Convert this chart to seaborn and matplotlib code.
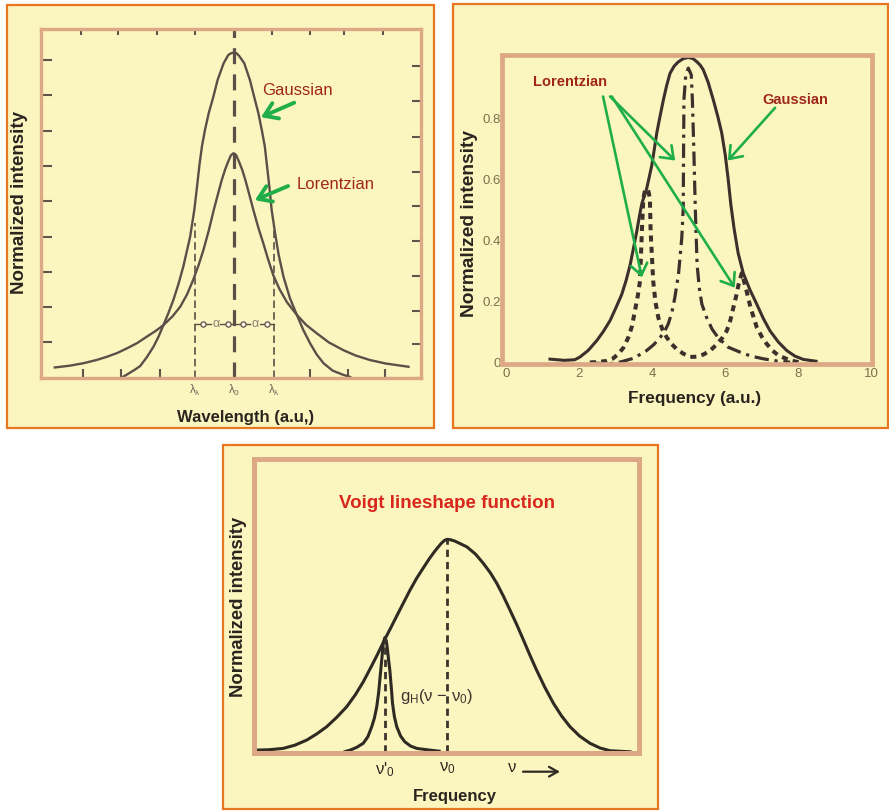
import matplotlib
matplotlib.use("Agg")
import matplotlib.pyplot as plt
from matplotlib.patches import Rectangle
import seaborn as sns

plt.rcParams['font.family'] = ['Liberation Sans', 'DejaVu Sans']
plt.rcParams['mathtext.fontset'] = 'custom'
plt.rcParams['mathtext.rm'] = 'Liberation Sans'
plt.rcParams['mathtext.it'] = 'Liberation Sans:italic'

# ---------------- data ----------------
# Panel A : wavelength profiles
a_gauss_x = [2.11, 2.25, 2.40, 2.55, 2.73, 2.90, 3.03, 3.16, 3.29, 3.42, 3.55, 3.68, 3.86, 3.97,
             4.04, 4.11, 4.17, 4.25, 4.35, 4.47, 4.58, 4.74, 4.86, 4.93, 5.00, 5.08, 5.15, 5.28,
             5.43, 5.54, 5.65, 5.74, 5.82, 5.87, 5.94, 6.00, 6.09, 6.18, 6.31, 6.48, 6.66, 6.83,
             7.01, 7.18, 7.36, 7.60, 7.88, 8.06]
a_gauss_y = [0.03, 0.12, 0.22, 0.33, 0.59, 0.88, 1.16, 1.49, 1.83, 2.20, 2.64, 3.14, 3.99, 4.75,
             5.40, 6.07, 6.55, 7.02, 7.50, 7.96, 8.43, 8.91, 9.14, 9.19, 9.21, 9.19, 9.11, 8.91,
             8.43, 7.96, 7.50, 7.02, 6.55, 6.07, 5.40, 4.75, 4.09, 3.50, 2.86, 2.25, 1.78, 1.35,
             0.97, 0.66, 0.41, 0.20, 0.08, 0.02]
a_lor_x = [0.31, 0.70, 1.06, 1.40, 1.67, 1.95, 2.20, 2.47, 2.72, 2.95, 3.16, 3.40, 3.60, 3.78,
           3.94, 4.08, 4.21, 4.35, 4.48, 4.59, 4.69, 4.78, 4.85, 4.93, 5.00, 5.07, 5.15, 5.23,
           5.31, 5.41, 5.52, 5.65, 5.78, 5.91, 6.04, 6.20, 6.40, 6.66, 6.90, 7.18, 7.50, 7.88,
           8.20, 8.58, 9.00, 9.59]
a_lor_y = [0.29, 0.34, 0.41, 0.50, 0.59, 0.70, 0.83, 0.98, 1.16, 1.32, 1.49, 1.74, 2.01, 2.36,
           2.77, 3.18, 3.62, 4.17, 4.75, 5.20, 5.60, 5.90, 6.10, 6.30, 6.36, 6.30, 6.10, 5.88,
           5.60, 5.20, 4.75, 4.25, 3.81, 3.34, 2.91, 2.52, 2.14, 1.78, 1.50, 1.26, 1.00, 0.78,
           0.63, 0.50, 0.40, 0.31]
a_center = 5.02
a_lambda_x = [3.98, 6.06]
a_lambda_top = [4.37, 4.18]
a_xtick_pos = [3.98, 5.02, 6.06]
a_xtick_lab = [r'λ$_\mathregular{λ}$', r'λ$_\mathregular{0}$', r'λ$_\mathregular{λ}$']
a_left_ticks = [1, 2, 3, 4, 5, 6, 7, 8, 9]
a_right_ticks = [0.0, 0.95, 1.90, 2.88, 3.88, 4.86, 5.83, 6.83, 7.83, 8.82]
a_top_ticks = [1.0, 1.98, 2.99, 3.98, 6.02, 7.01, 7.91, 8.91]
a_bottom_ticks = [1.06, 2.05, 3.07, 7.01, 8.0, 8.98]
a_alpha_y = 1.52
a_alpha_segments = [(3.98, 4.41), (4.65, 5.43), (5.69, 6.06)]
a_alpha_circles = [4.21, 4.86, 5.26, 5.87]
a_alpha_text_x = [4.53, 5.56]

# Panel B : frequency profiles
b_gauss_x = [1.21, 1.60, 1.89, 2.03, 2.25, 2.49, 2.67, 2.85, 3.01, 3.17, 3.29, 3.40, 3.49, 3.58,
             3.65, 3.72, 3.79, 3.85, 3.92, 3.99, 4.06, 4.13, 4.22, 4.31, 4.40, 4.49, 4.60, 4.71,
             4.85, 4.99, 5.12, 5.23, 5.32, 5.40, 5.53, 5.67, 5.80, 5.90, 6.00, 6.08, 6.15, 6.24,
             6.35, 6.49, 6.67, 6.86, 7.04, 7.22, 7.45, 7.68, 7.90, 8.13, 8.48]
b_gauss_y = [0.012, 0.008, 0.010, 0.019, 0.040, 0.073, 0.103, 0.138, 0.180, 0.224, 0.270, 0.321,
             0.375, 0.430, 0.478, 0.522, 0.548, 0.570, 0.608, 0.646, 0.700, 0.755, 0.810, 0.863,
             0.910, 0.949, 0.972, 0.986, 0.997, 1.001, 0.997, 0.986, 0.975, 0.960, 0.920, 0.863,
             0.805, 0.755, 0.680, 0.600, 0.520, 0.440, 0.360, 0.294, 0.240, 0.192, 0.145, 0.105,
             0.068, 0.040, 0.022, 0.011, 0.005]
b_lorc_x = [2.30, 2.80, 3.12, 3.50, 3.85, 4.05, 4.22, 4.34, 4.44, 4.54, 4.62, 4.72, 4.81, 4.85,
            4.86, 4.87, 4.92, 4.99, 5.07, 5.10, 5.14, 5.18, 5.23, 5.29, 5.36, 5.49, 5.64, 5.80,
            6.08, 6.40, 6.70, 7.04, 7.40, 7.77]
b_lorc_y = [0.000, -0.004, 0.002, 0.015, 0.040, 0.060, 0.083, 0.103, 0.127, 0.165, 0.213, 0.289,
            0.408, 0.505, 0.700, 0.863, 0.944, 0.966, 0.944, 0.863, 0.700, 0.505, 0.321, 0.245,
            0.192, 0.148, 0.110, 0.083, 0.051, 0.035, 0.022, 0.013, 0.006, 0.002]
b_lor2_x = [2.30, 2.55, 2.76, 2.93, 3.08, 3.22, 3.35, 3.45, 3.53, 3.61, 3.67, 3.72, 3.76, 3.80,
            3.85, 3.90, 3.94, 3.96, 4.03, 4.09, 4.17, 4.28, 4.40, 4.53, 4.67, 4.85, 5.04, 5.22,
            5.40, 5.59, 5.77, 5.92, 6.04, 6.14, 6.22, 6.30, 6.36, 6.45, 6.56, 6.69, 6.86, 7.00,
            7.13, 7.29, 7.45, 7.77, 8.04]
b_lor2_y = [0.001, 0.003, 0.006, 0.014, 0.029, 0.050, 0.083, 0.120, 0.170, 0.220, 0.268, 0.430,
            0.538, 0.562, 0.570, 0.562, 0.538, 0.430, 0.268, 0.200, 0.148, 0.110, 0.083, 0.062,
            0.045, 0.030, 0.019, 0.020, 0.027, 0.040, 0.061, 0.082, 0.105, 0.140, 0.181, 0.220,
            0.255, 0.294, 0.246, 0.181, 0.116, 0.085, 0.062, 0.040, 0.024, 0.008, 0.001]
b_xticks = [0, 2, 4, 6, 8, 10]
b_yticks = [0, 0.2, 0.4, 0.6, 0.8]
b_yticklabels = ['0', '0.2', '0.4', '0.6', '0.8']
b_lor_arrows = [((2.66, 0.873), (3.72, 0.28)),
                ((2.85, 0.873), (4.63, 0.663)),
                ((2.90, 0.873), (6.26, 0.246))]
b_gau_arrow = ((7.36, 0.836), (6.07, 0.663))

# Panel C : Voigt
c_gauss_x = [0.06, 0.40, 0.75, 1.05, 1.36, 1.62, 1.88, 2.14, 2.40, 2.62, 2.83, 3.01, 3.18, 3.39,
             3.55, 3.70, 3.87, 4.04, 4.22, 4.39, 4.55, 4.69, 4.85, 4.93, 5.00, 5.08, 5.21, 5.52,
             5.75, 5.95, 6.13, 6.30, 6.47, 6.64, 6.82, 6.99, 7.16, 7.33, 7.55, 7.77, 7.98, 8.20,
             8.45, 8.72, 8.98, 9.24, 9.76]
c_gauss_y = [0.009, 0.011, 0.017, 0.032, 0.056, 0.085, 0.119, 0.163, 0.213, 0.268, 0.330, 0.392,
             0.452, 0.530, 0.586, 0.640, 0.700, 0.760, 0.818, 0.866, 0.910, 0.945, 0.980, 0.994,
             1.000, 0.999, 0.992, 0.965, 0.930, 0.887, 0.843, 0.793, 0.733, 0.668, 0.598, 0.527,
             0.455, 0.386, 0.303, 0.229, 0.170, 0.119, 0.075, 0.041, 0.019, 0.006, 0.001]
c_narrow_x = [2.36, 2.49, 2.66, 2.83, 2.95, 3.05, 3.12, 3.18, 3.23, 3.26, 3.31, 3.35, 3.39, 3.43,
              3.46, 3.49, 3.52, 3.56, 3.59, 3.64, 3.70, 3.80, 3.91, 4.06, 4.22, 4.56, 4.80]
c_narrow_y = [0.002, 0.009, 0.022, 0.041, 0.072, 0.119, 0.160, 0.213, 0.280, 0.339, 0.433, 0.511,
              0.538, 0.522, 0.480, 0.430, 0.386, 0.300, 0.229, 0.165, 0.119, 0.075, 0.048, 0.028,
              0.017, 0.009, 0.004]
c_markers_x = [3.39, 5.00]
c_markers_top = [0.535, 1.0]
c_xticks = [3.39, 5.0, 6.7]
c_xticklabels = ["ν'$_\\mathregular{0}$", "ν$_\\mathregular{0}$", "ν"]

# ---------------- style ----------------
W, H = 889, 811
YELLOW = '#fbf6c0'
ORANGE = '#e8761e'
TAN = '#dda886'
GREEN = '#1fae4a'
DARKRED = '#a0261c'
CURVE_A = '#5a5047'
CURVE_B = '#3b312c'
TICKCOL = '#5e544b'

fig = plt.figure(figsize=(W / 100, H / 100), dpi=100)
fig.patch.set_facecolor('white')


def frect(x0, y0, x1, y1):
    fig.patches.append(Rectangle((x0 / W, 1 - y1 / H), (x1 - x0) / W, (y1 - y0) / H,
                                 transform=fig.transFigure, facecolor=YELLOW,
                                 edgecolor=ORANGE, linewidth=1.6, zorder=-10))


def fax(x0, y0, x1, y1):
    return fig.add_axes([x0 / W, 1 - y1 / H, (x1 - x0) / W, (y1 - y0) / H])


def ftext(px, py, s, **kw):
    fig.text(px / W, 1 - py / H, s, ha='center', va='center', **kw)


def style_frame(ax, lw):
    ax.set_facecolor(YELLOW)
    for s in ax.spines.values():
        s.set_color(TAN)
        s.set_linewidth(lw)


def curve(ax, xs, ys, color, lw, dashes=None):
    sns.lineplot(x=xs, y=ys, ax=ax, sort=False, estimator=None, color=color, linewidth=lw)
    ln = ax.lines[-1]
    ln.set_solid_joinstyle('round')
    ln.set_dash_joinstyle('round')
    if dashes is not None:
        ln.set_dashes(dashes)
    return ln


frect(7.3, 5, 434.3, 427.7)
frect(453.3, 4, 888.3, 427.7)
frect(222.7, 445, 658.3, 809)

# ---------------- Panel A ----------------
axA = fax(40.7, 29.3, 420.7, 377.7)
style_frame(axA, 2.4)
axA.set_xlim(-0.06, 9.91)
axA.set_ylim(0, 9.87)
curve(axA, a_gauss_x, a_gauss_y, CURVE_A, 1.7)
curve(axA, a_lor_x, a_lor_y, CURVE_A, 1.7)
axA.plot([a_center, a_center], [0, 9.87], color=CURVE_A, lw=2.3, dashes=(5, 3.2))
for lx, lt in zip(a_lambda_x, a_lambda_top):
    axA.plot([lx, lx], [0, lt], color=CURVE_A, lw=1.2, dashes=(4.5, 2.5))
for s0, s1 in a_alpha_segments:
    axA.plot([s0, s1], [a_alpha_y, a_alpha_y], color=CURVE_A, lw=1.0)
axA.scatter(a_alpha_circles, [a_alpha_y] * len(a_alpha_circles), s=14, facecolor='#fdfbe6',
            edgecolor=CURVE_A, linewidth=0.9, zorder=4)
for tx in a_alpha_text_x:
    axA.text(tx, a_alpha_y, 'α', ha='center', va='center', fontsize=9, color='#8a7f72')

axA.set_yticks(a_left_ticks)
axA.set_yticks(a_right_ticks, minor=True)
axA.tick_params(axis='y', which='major', direction='in', length=8, width=1.5, color=TICKCOL,
                left=True, right=False, labelleft=False)
axA.tick_params(axis='y', which='minor', direction='in', length=6.5, width=1.5, color=TICKCOL,
                left=False, right=True, labelleft=False)
axA.set_xticks(a_xtick_pos)
axA.set_xticklabels(a_xtick_lab)
axA.set_xticks(a_bottom_ticks, minor=True)
axA.tick_params(axis='x', which='major', length=0, pad=4, labelsize=8.5, labelcolor='#6e645a')
axA.tick_params(axis='x', which='minor', direction='in', length=6.5, width=1.5, color=TICKCOL)
secA = axA.secondary_xaxis('top')
secA.set_xticks(a_top_ticks)
secA.set_xticklabels([])
secA.tick_params(axis='x', direction='in', length=4.5, width=1.5, color=TICKCOL)
for s in secA.spines.values():
    s.set_visible(False)

axA.text(6.67, 8.13, 'Gaussian', ha='center', va='center', fontsize=12, color=DARKRED)
axA.text(7.69, 5.46, 'Lorentzian', ha='center', va='center', fontsize=12, color=DARKRED)
axA.annotate('', xy=(5.72, 7.38), xytext=(6.59, 7.79),
             arrowprops=dict(arrowstyle='->,head_length=0.45,head_width=0.3', color=GREEN,
                             lw=2.8, mutation_scale=20, shrinkA=0, shrinkB=0))
axA.annotate('', xy=(5.56, 5.03), xytext=(6.43, 5.43),
             arrowprops=dict(arrowstyle='->,head_length=0.45,head_width=0.3', color=GREEN,
                             lw=2.8, mutation_scale=20, shrinkA=0, shrinkB=0))
ftext(20, 202.5, 'Normalized intensity', rotation=90, fontsize=13.5, fontweight='bold',
      color='#2a241f')
ftext(246, 417, 'Wavelength (a.u,)', fontsize=12, fontweight='bold', color='#2a241f')

# ---------------- Panel B ----------------
axB = fax(502.3, 55, 871.7, 364.3)
style_frame(axB, 3.4)
axB.set_xlim(-0.093, 10.0)
axB.set_ylim(-0.005, 1.009)
curve(axB, b_gauss_x, b_gauss_y, CURVE_B, 2.2)
curve(axB, b_lorc_x, b_lorc_y, CURVE_B, 2.3, dashes=(4.5, 1.8, 1.0, 1.8))
curve(axB, b_lor2_x, b_lor2_y, CURVE_B, 2.9, dashes=(1.5, 1.3))
axB.set_xticks(b_xticks)
axB.set_xticklabels([str(t) for t in b_xticks])
axB.set_yticks(b_yticks)
axB.set_yticklabels(b_yticklabels)
axB.tick_params(axis='both', length=0, labelsize=9.5, labelcolor='#7f6e4c')
axB.tick_params(axis='x', pad=3)
axB.tick_params(axis='y', pad=1)
for tail, tip in b_lor_arrows:
    axB.annotate('', xy=tip, xytext=tail,
                 arrowprops=dict(arrowstyle='->,head_length=0.4,head_width=0.3', color=GREEN,
                                 lw=1.9, mutation_scale=20, shrinkA=0, shrinkB=0))
axB.annotate('', xy=b_gau_arrow[1], xytext=b_gau_arrow[0],
             arrowprops=dict(arrowstyle='->,head_length=0.4,head_width=0.3', color=GREEN,
                             lw=1.9, mutation_scale=20, shrinkA=0, shrinkB=0))
axB.text(1.76, 0.92, 'Lorentzian', ha='center', va='center', fontsize=10.5, fontweight='bold',
         color=DARKRED)
axB.text(7.92, 0.863, 'Gaussian', ha='center', va='center', fontsize=10.5, fontweight='bold',
         color=DARKRED)
ftext(470, 223, 'Normalized intensity', rotation=90, fontsize=13.8, fontweight='bold',
      color='#2a241f')
ftext(695, 399, 'Frequency (a.u.)', fontsize=12.4, fontweight='bold', color='#2a241f')

# ---------------- Panel C ----------------
axC = fax(254.3, 459, 639.3, 753.3)
style_frame(axC, 3.6)
axC.set_xlim(0, 10.0)
axC.set_ylim(-0.006, 1.378)
curve(axC, c_gauss_x, c_gauss_y, '#2f2a22', 2.2)
curve(axC, c_narrow_x, c_narrow_y, '#2f2a22', 2.2)
for mx, mt in zip(c_markers_x, c_markers_top):
    axC.plot([mx, mx], [0, mt], color='#3a342c', lw=2.0, dashes=(2.6, 1.8))
axC.set_xticks(c_xticks)
axC.set_xticklabels(c_xticklabels)
axC.set_yticks([])
axC.tick_params(axis='x', length=0, pad=5, labelsize=12, labelcolor='#2f2a22')
axC.annotate('', xy=(7.94, -0.0625), xytext=(6.98, -0.0625),
             xycoords=axC.get_xaxis_transform(), textcoords=axC.get_xaxis_transform(),
             arrowprops=dict(arrowstyle='->,head_length=0.45,head_width=0.25', color='#2f2a22',
                             lw=1.6, mutation_scale=14, shrinkA=0, shrinkB=0),
             annotation_clip=False)
axC.text(5.0, 1.169, 'Voigt lineshape function', ha='center', va='center', fontsize=13.5,
         fontweight='bold', color='#d8281d')
axC.text(3.78, 0.26, r'g$_\mathregular{H}$(ν − ν$_\mathregular{0}$)', ha='left', va='center',
         fontsize=12, color='#3a3530')
ftext(238.3, 606.7, 'Normalized intensity', rotation=90, fontsize=13.3, fontweight='bold',
      color='#2a241f')
ftext(455, 796, 'Frequency', fontsize=12, fontweight='bold', color='#2a241f')

fig.savefig('out.png', dpi=100, facecolor='white')
